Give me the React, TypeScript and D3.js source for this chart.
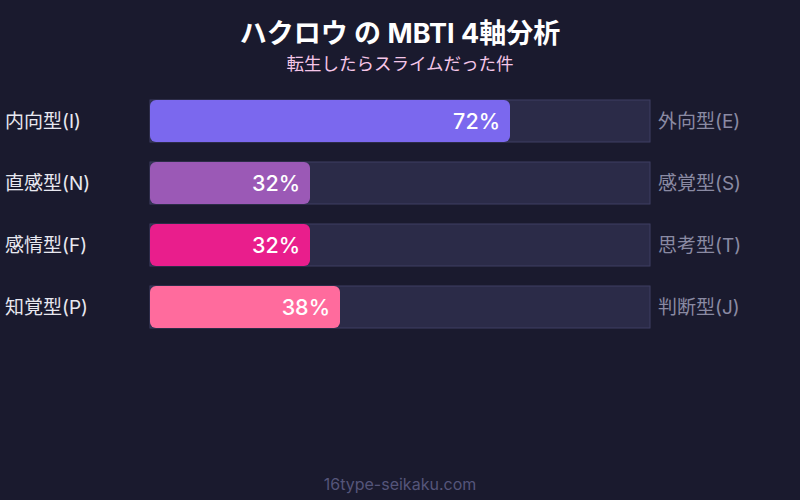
import { scaleLinear, scaleBand } from "d3";

const traits = ["内向型(I)", "直感型(N)", "感情型(F)", "知覚型(P)"];
const opposites = ["外向型(E)", "感覚型(S)", "思考型(T)", "判断型(J)"];
const percents = [72, 32, 32, 38];
const barColors = ["#7b68ee", "#9b59b6", "#e91e8c", "#ff6b9d"];

const W = 800;
const H = 500;
const FONT = "Inter, 'Noto Sans CJK JP', sans-serif";

export default function App() {
  const x = scaleLinear().domain([0, 100]).range([150, 650]);
  const y = scaleBand<string>()
    .domain(traits)
    .range([100, 328])
    .paddingInner(20 / 62)
    .paddingOuter(0);
  const bh = y.bandwidth();

  return (
    <svg
      width={W}
      height={H}
      style={{ position: "fixed", top: 0, left: 0, fontFamily: FONT }}
    >
      <rect width={W} height={H} fill="#1a1a2e" />
      <text x={W / 2} y={43} textAnchor="middle" fill="#ffffff" fontSize={27} fontWeight={700}>
        ハクロウ の MBTI 4軸分析
      </text>
      <text x={W / 2} y={70} textAnchor="middle" fill="#f5c6e8" fontSize={17.5}>
        転生したらスライムだった件
      </text>

      {traits.map((t, i) => {
        const y0 = y(t) as number;
        const cy = y0 + bh / 2;
        return (
          <g key={t}>
            <rect
              x={x(0)}
              y={y0}
              width={x(100) - x(0)}
              height={bh}
              fill="#2b2b48"
              stroke="#3e3e62"
              strokeWidth={1}
            />
            <rect
              x={x(0)}
              y={y0}
              width={x(percents[i]) - x(0)}
              height={bh}
              rx={6}
              fill={barColors[i]}
            />
            <text
              x={x(percents[i]) - 10}
              y={cy}
              dy="0.36em"
              textAnchor="end"
              fill="#ffffff"
              fontSize={21.5}
              fontWeight={500}
            >
              {percents[i]}%
            </text>
            <text x={5} y={cy} dy="0.36em" fill="#e8e8f0" fontSize={19}>
              {t}
            </text>
            <text x={658} y={cy} dy="0.36em" fill="#8a8aa3" fontSize={19}>
              {opposites[i]}
            </text>
          </g>
        );
      })}

      <text x={W / 2} y={490} textAnchor="middle" fill="#55557a" fontSize={16}>
        16type-seikaku.com
      </text>
    </svg>
  );
}
